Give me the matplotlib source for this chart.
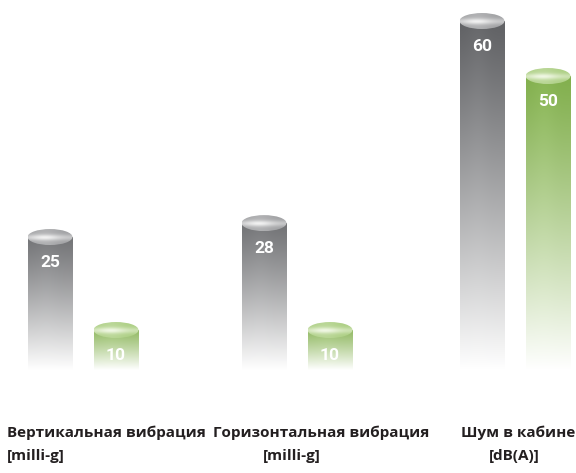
import numpy as np
import matplotlib
matplotlib.use("Agg")
import matplotlib.pyplot as plt
from matplotlib.patches import Ellipse
from matplotlib import font_manager as fm
from matplotlib.colors import to_rgb

# ---------------- data ----------------
category_line1 = ["Вертикальная вибрация", "Горизонтальная вибрация", "Шум в кабине"]
category_line2 = ["[milli-g]", "[milli-g]", "[dB(A)]"]
gray_values = [25, 28, 60]
green_values = [10, 10, 50]
gray_labels = ["25", "28", "60"]
green_labels = ["10", "10", "50"]

# ---------------- layout / style ----------------
W, H = 576, 473
DPI = 100
AX_BOTTOM_PX = 370          # bottom of plotting area (pixels from top)
UNIT_PX = 66                # pixel distance between gray and green bar of a group
group_gray_px = [50, 264, 482]
# per-group value scale (each group has its own units): (ymin, ymax)
group_ylims = [(3.55, 63.23), (3.27, 65.56), (-3.45, 63.82)]
BAR_W = 45 / UNIT_PX
CAP_H_PX = 16

GRAY_TOP = "#5f6063"
GREEN_TOP = "#7dac46"

names = {f.name for f in fm.fontManager.ttflist}
VAL_FONT = "Roboto" if "Roboto" in names else "DejaVu Sans"
CAT_FONT = "Open Sans" if "Open Sans" in names else VAL_FONT
plt.rcParams["font.family"] = [VAL_FONT, "DejaVu Sans"]

fig = plt.figure(figsize=(W / DPI, H / DPI), dpi=DPI)
fig.patch.set_facecolor("white")


def body_image(top_color, height_px, full_px):
    c = np.array(to_rgb(top_color))
    n, m = 256, 48
    t = np.linspace(0, 1, n)[:, None]
    top_mix = 0.2 * (1 - height_px / full_px)
    w = top_mix + (1 - top_mix) * np.clip(t, 0, 1) ** 1.15
    w = np.clip(w, 0, 1)
    u = np.linspace(-1, 1, m)[None, :]
    shade = 0.025 * np.exp(-((u + 0.2) / 0.5) ** 2)
    img = np.empty((n, m, 3))
    for k in range(3):
        base = c[k] + (1 - c[k]) * w
        img[:, :, k] = np.clip(base + shade * (1 - w), 0, 1)
    return img


def cap_image(edge_color, light_color):
    e = np.array(to_rgb(edge_color))
    l = np.array(to_rgb(light_color))
    n, m = 64, 96
    v = np.linspace(1, -1, n)[:, None]
    u = np.linspace(-1, 1, m)[None, :]
    band = np.exp(-((v + 0.05) / 0.38) ** 2)
    side = 0.55 + 0.45 * np.exp(-((u + 0.25) / 0.65) ** 2)
    hl = np.clip((0.35 + 0.65 * band) * side, 0, 1)
    img = e[None, None, :] + (l - e)[None, None, :] * hl[:, :, None]
    return np.clip(img, 0, 1)


for g in range(3):
    gx = group_gray_px[g]
    ax = fig.add_axes([0, (H - AX_BOTTOM_PX) / H, 1, AX_BOTTOM_PX / H])
    ax.set_axis_off()
    ax.patch.set_alpha(0)
    xlim = (-gx / UNIT_PX, (W - gx) / UNIT_PX)
    ylim = group_ylims[g]
    ax.set_xlim(*xlim)
    ax.set_ylim(*ylim)
    px_per_unit = AX_BOTTOM_PX / (ylim[1] - ylim[0])
    cap_h = CAP_H_PX / px_per_unit
    bars = [
        (0, gray_values[g], gray_labels[g], GRAY_TOP, "#8c8d90", "#f2f2f2"),
        (1, green_values[g], green_labels[g], GREEN_TOP, "#9cc56c", "#f0f7e4"),
    ]
    for xpos, val, lab, top_c, cap_edge, cap_light in bars:
        hpx = (val - ylim[0]) * px_per_unit
        img = body_image(top_c, hpx, AX_BOTTOM_PX)
        ax.imshow(img, extent=(xpos - BAR_W / 2, xpos + BAR_W / 2, ylim[0], val),
                  aspect="auto", interpolation="bilinear", zorder=2)
        cimg = cap_image(cap_edge, cap_light)
        im = ax.imshow(cimg, extent=(xpos - BAR_W / 2, xpos + BAR_W / 2,
                                     val - cap_h / 2, val + cap_h / 2),
                       aspect="auto", interpolation="bilinear", zorder=3)
        ell = Ellipse((xpos, val), BAR_W, cap_h, transform=ax.transData,
                      facecolor="none", edgecolor="none")
        ax.add_patch(ell)
        im.set_clip_path(ell)
        ax.annotate(lab, xy=(xpos, val), xytext=(0, -25), textcoords="offset pixels",
                    ha="center", va="center", color="white", fontsize=12.5,
                    fontweight="bold", zorder=4)
    ax.set_xlim(*xlim)
    ax.set_ylim(*ylim)

# ---------------- category labels ----------------
LBL = dict(fontsize=11, fontweight="bold", color="#231f20", va="center",
           family=[CAT_FONT, "DejaVu Sans"])
y1 = 1 - 433 / H
y2 = 1 - 456 / H
fig.text(7 / W, y1, category_line1[0], ha="left", **LBL)
fig.text(7 / W, y2, category_line2[0], ha="left", **LBL)
fig.text(213 / W, y1, category_line1[1], ha="left", **LBL)
fig.text(292 / W, y2, category_line2[1], ha="center", **LBL)
fig.text(575 / W, y1, category_line1[2], ha="right", **LBL)
fig.text(514 / W, y2, category_line2[2], ha="center", **LBL)

fig.savefig("out.png", dpi=DPI, facecolor="white")
